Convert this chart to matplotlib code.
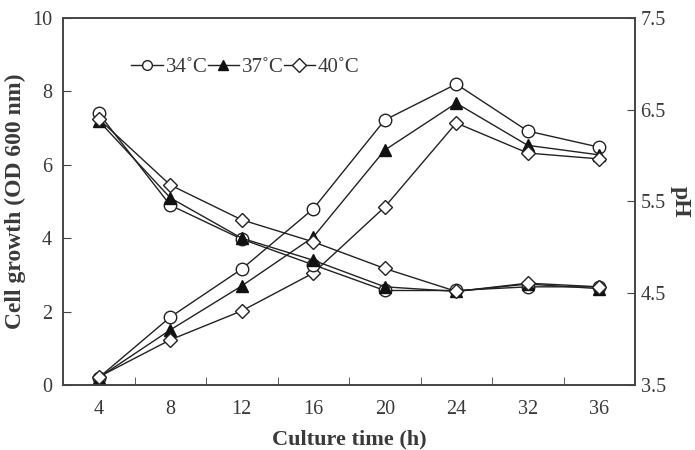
import matplotlib
matplotlib.use("Agg")
import matplotlib.pyplot as plt
import numpy as np

plt.rcParams['font.family'] = ['Liberation Serif', 'DejaVu Serif']

times = ["4", "8", "12", "16", "20", "24", "32", "36"]
temps = ["34˚C", "37˚C", "40˚C"]

growth_34 = [0.20, 1.85, 3.16, 4.80, 7.22, 8.20, 6.92, 6.48]
growth_37 = [0.20, 1.50, 2.70, 4.03, 6.40, 7.68, 6.53, 6.27]
growth_40 = [0.22, 1.23, 2.02, 3.05, 4.85, 7.14, 6.32, 6.16]

ph_34 = [6.46, 5.46, 5.09, 4.81, 4.53, 4.53, 4.57, 4.57]
ph_37 = [6.38, 5.54, 5.10, 4.86, 4.57, 4.52, 4.60, 4.55]
ph_40 = [6.40, 5.68, 5.30, 5.06, 4.77, 4.52, 4.61, 4.57]

txt = '#3a3a3a'
fig = plt.figure(figsize=(6.95, 4.5), dpi=100)
ax = fig.add_axes([63/695, 1-385/450, (635-63)/695, (385-18)/450])
ax2 = ax.twinx()

x = np.arange(len(times))
styles = [
    dict(marker='o', mfc='white', mec='#222222', ms=9),
    dict(marker='^', mfc='#111111', mec='#111111', ms=9),
    dict(marker='D', mfc='white', mec='#222222', ms=7.5),
]
lines = []
for g, st, lab in zip([growth_34, growth_37, growth_40], styles, temps):
    l, = ax.plot(x, g, color='#222222', lw=1, label=lab, zorder=3, **st)
    lines.append(l)
for p, st in zip([ph_34, ph_37, ph_40], styles):
    ax2.plot(x, p, color='#222222', lw=1, zorder=3, **st)

ax.set_xlim(-0.5, len(times) - 0.5)
ax.set_ylim(0, 10)
ax2.set_ylim(3.5, 7.5)
ax.set_xticks(x)
ax.set_xticklabels(times)
ax.set_xticks(np.arange(0.5, len(times) - 1, 1), minor=True)
ax.tick_params(axis='x', which='major', length=0, pad=11, labelsize=14.5, labelcolor=txt)
ax.tick_params(axis='x', which='minor', direction='in', length=6, color='#444444')
ax.set_yticks(np.arange(0, 11, 2))
ax.tick_params(axis='y', direction='in', length=6, labelsize=14.5, labelcolor=txt, color='#444444', pad=8)
ax2.set_yticks([3.5, 4.5, 5.5, 6.5, 7.5])
ax2.set_yticklabels(["3.5", "4.5", "5.5", "6.5", "7.5"])
ax2.tick_params(axis='y', direction='in', length=6, labelsize=14.5, labelcolor=txt, color='#444444', pad=4)

for a in (ax, ax2):
    for s in a.spines.values():
        s.set_color('#444444')
        s.set_linewidth(1.2)

ax.set_xlabel("Culture time (h)", fontsize=16, fontweight='bold', color=txt, labelpad=7)
ax.set_ylabel("Cell growth (OD 600 nm)", fontsize=17, fontweight='bold', color=txt, labelpad=4)
ax2.set_ylabel("pH", fontsize=17, fontweight='bold', color=txt, rotation=270, labelpad=18)

leg = ax.legend(handles=lines, loc='upper left', bbox_to_anchor=(0.105, 0.915), ncol=3,
                frameon=False, fontsize=15, handlelength=1.5, handletextpad=0.15,
                columnspacing=0.0, borderaxespad=0)
for t in leg.get_texts():
    t.set_color(txt)
for h in leg.legend_handles:
    h.set_markersize(7)

fig.savefig("out.png", dpi=100)
